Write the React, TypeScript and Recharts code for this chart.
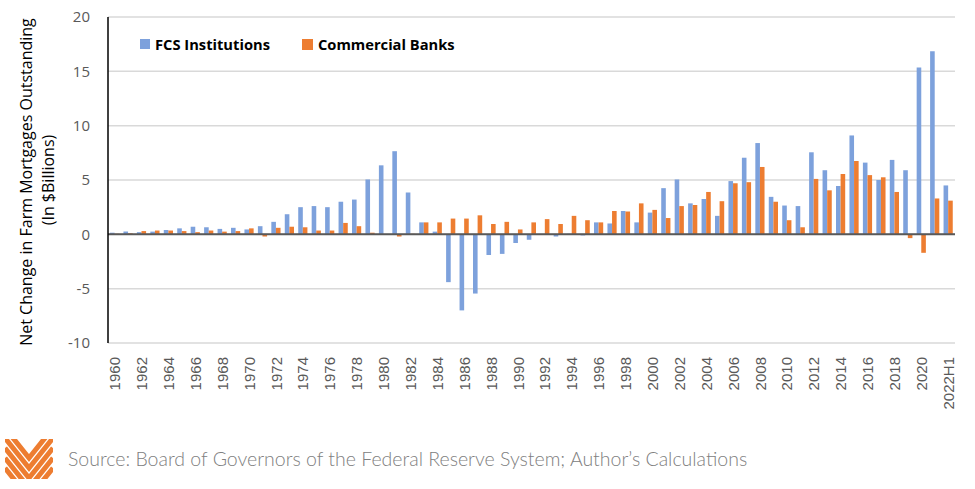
import React from "react";
import {
  BarChart,
  Bar,
  XAxis,
  YAxis,
  CartesianGrid,
  ReferenceLine,
} from "recharts";

const YEARS = [
  "1960", "1961", "1962", "1963", "1964", "1965", "1966", "1967", "1968", "1969",
  "1970", "1971", "1972", "1973", "1974", "1975", "1976", "1977", "1978", "1979",
  "1980", "1981", "1982", "1983", "1984", "1985", "1986", "1987", "1988", "1989",
  "1990", "1991", "1992", "1993", "1994", "1995", "1996", "1997", "1998", "1999",
  "2000", "2001", "2002", "2003", "2004", "2005", "2006", "2007", "2008", "2009",
  "2010", "2011", "2012", "2013", "2014", "2015", "2016", "2017", "2018", "2019",
  "2020", "2021", "2022H1",
];

const FCS = [
  0.15, 0.25, 0.2, 0.25, 0.4, 0.55, 0.7, 0.65, 0.5, 0.6,
  0.45, 0.75, 1.15, 1.85, 2.5, 2.6, 2.5, 3.0, 3.2, 5.05,
  6.35, 7.65, 3.85, 1.1, 0.25, -4.4, -7.0, -5.45, -1.9, -1.8,
  -0.8, -0.5, -0.05, -0.2, 0.05, -0.1, 1.1, 1.0, 2.15, 1.1,
  2.0, 4.25, 5.05, 2.85, 3.25, 1.7, 4.9, 7.05, 8.4, 3.45,
  2.65, 2.6, 7.55, 5.9, 4.45, 9.1, 6.6, 5.0, 6.85, 5.9,
  15.35, 16.85, 4.5,
];

const BANKS = [
  0.05, 0.1, 0.3, 0.35, 0.35, 0.3, 0.2, 0.35, 0.25, 0.3,
  0.55, -0.2, 0.6, 0.7, 0.65, 0.35, 0.35, 1.05, 0.75, 0.15,
  0.02, -0.2, 0.05, 1.1, 1.1, 1.45, 1.45, 1.75, 0.95, 1.15,
  0.45, 1.1, 1.4, 0.95, 1.7, 1.3, 1.1, 2.15, 2.1, 2.85,
  2.25, 1.5, 2.6, 2.7, 3.9, 3.05, 4.7, 4.8, 6.2, 3.0,
  1.3, 0.65, 5.1, 4.05, 5.55, 6.75, 5.45, 5.25, 3.9, -0.35,
  -1.7, 3.3, 3.1,
];

const Y_TICKS = [-10, -5, 0, 5, 10, 15, 20];

const BLUE = "#7da1dc";
const ORANGE = "#ed7d31";

const data = YEARS.map((year, i) => ({ year, fcs: FCS[i], banks: BANKS[i] }));

const XTick = (props: any) => {
  const { x, y, payload } = props;
  return (
    <text
      x={x}
      y={y}
      transform={`rotate(-90, ${x}, ${y})`}
      textAnchor="end"
      dominantBaseline="central"
      fill="#595959"
      fontSize={15}
      fontFamily="Liberation Sans, Arial, sans-serif"
    >
      {payload.value}
    </text>
  );
};

const YTitle = () => (
  <g fontFamily="Open Sans, sans-serif" fontSize={16} fill="#000">
    <text x={26} y={182} transform="rotate(-90, 26, 182)" textAnchor="middle" dominantBaseline="central">
      Net Change in Farm Mortgages Outstanding
    </text>
    <text x={48} y={180} transform="rotate(-90, 48, 180)" textAnchor="middle" dominantBaseline="central">
      (In $Billions)
    </text>
  </g>
);

const LegendBox = () => (
  <div
    style={{
      position: "absolute",
      left: 140,
      top: 34,
      display: "flex",
      alignItems: "center",
      fontFamily: "Open Sans, sans-serif",
      fontWeight: 700,
      fontSize: 14.7,
      color: "#000",
    }}
  >
    <span style={{ width: 10, height: 10, background: BLUE, display: "inline-block", marginRight: 5 }} />
    <span style={{ marginRight: 32 }}>FCS Institutions</span>
    <span style={{ width: 11, height: 11, background: ORANGE, display: "inline-block", marginRight: 5 }} />
    <span>Commercial Banks</span>
  </div>
);

const Logo = () => (
  <svg width={60} height={50} style={{ position: "absolute", left: 0, top: 434 }}>
    <defs>
      <clipPath id="logoClip">
        <rect x={5} y={5} width={48} height={40} />
      </clipPath>
    </defs>
    <g clipPath="url(#logoClip)" stroke={ORANGE} strokeWidth={5} fill="none">
      {[-6, 4, 14, 24, 34].map((d) => (
        <polyline key={d} points={`5,${d} 29,${d + 30} 53,${d}`} />
      ))}
    </g>
  </svg>
);

export default function App() {
  return (
    <div style={{ position: "relative", width: 975, height: 489, background: "#fff" }}>
      <style>{`body{margin:0}`}</style>
      <BarChart
        width={975}
        height={420}
        data={data}
        margin={{ top: 17, right: 20, left: 0, bottom: 0 }}
        barGap={0}
        barSize={4.6}
      >
        <CartesianGrid vertical={false} stroke="#d9d9d9" strokeWidth={1.5} />
        <XAxis
          dataKey="year"
          interval={1}
          axisLine={false}
          tickLine={false}
          height={77}
          tick={<XTick />}
          tickMargin={8}
        />
        <YAxis
          domain={[-10, 20]}
          ticks={Y_TICKS}
          width={108}
          axisLine={{ stroke: "#000", strokeWidth: 1.5 }}
          tickLine={false}
          tickMargin={12}
          tick={{ fill: "#595959", fontSize: 15, fontFamily: "Open Sans, sans-serif" }}
        />
        <Bar dataKey="fcs" fill={BLUE} isAnimationActive={false} />
        <Bar dataKey="banks" fill={ORANGE} isAnimationActive={false} />
        <ReferenceLine y={0} stroke="#595959" strokeWidth={2} />
        <YTitle />
      </BarChart>
      <LegendBox />
      <Logo />
      <div
        style={{
          position: "absolute",
          left: 68,
          top: 447,
          fontFamily: "Lato, sans-serif",
          fontWeight: 300,
          fontSize: 19.5,
          color: "#808080",
          whiteSpace: "nowrap",
        }}
      >
        Source: Board of Governors of the Federal Reserve System; Author’s Calculations
      </div>
    </div>
  );
}
